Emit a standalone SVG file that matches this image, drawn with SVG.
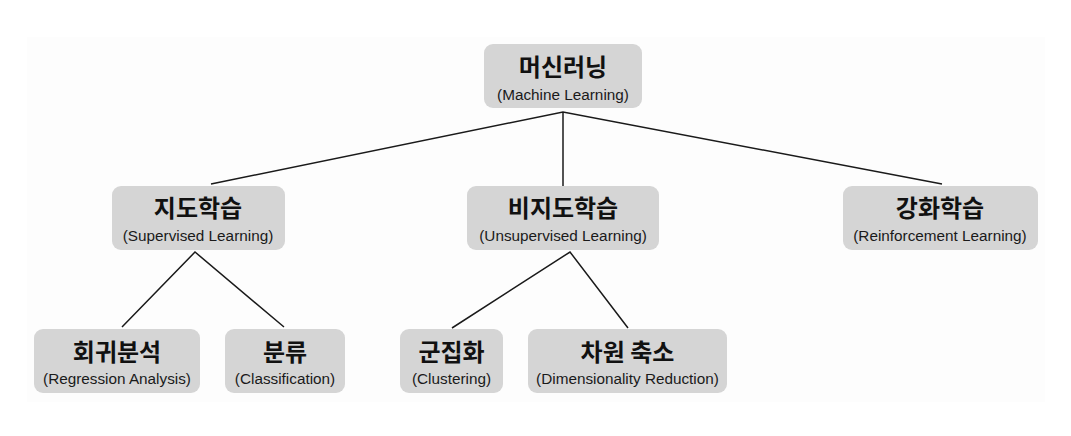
<svg xmlns="http://www.w3.org/2000/svg" width="1071" height="436" viewBox="0 0 1071 436">
  <style>
    .box { fill: #d5d5d5; }
    .ko { font-family: "Noto Sans CJK KR", "Liberation Sans", sans-serif; font-weight: 700; font-size: 24px; fill: #111; text-anchor: middle; }
    .en { font-family: "Liberation Sans", "Noto Sans CJK KR", sans-serif; font-size: 15.3px; fill: #1a1a1a; text-anchor: middle; }
    .edge { stroke: #1a1a1a; stroke-width: 1.5; fill: none; stroke-linejoin: miter; }
  </style>
  <rect x="0" y="0" width="1071" height="436" fill="#ffffff"/>
  <rect x="27" y="37" width="1018" height="365" fill="#fdfdfd"/>
  <g id="connectors">
    <polyline class="edge" points="211,184 563,112 942,184"/>
    <line class="edge" x1="563" y1="112" x2="563" y2="186"/>
    <polyline class="edge" points="122,327 195,252 284,327"/>
    <polyline class="edge" points="452,328 570,252 628,328"/>
  </g>
  <g id="node-ml">
    <rect class="box" x="484" y="44" width="158" height="64" rx="9"/>
    <text class="ko" x="563" y="76">머신러닝</text>
    <text class="en" x="563" y="100">(Machine Learning)</text>
  </g>
  <g id="node-supervised">
    <rect class="box" x="112" y="186" width="173" height="64" rx="9"/>
    <text class="ko" x="198" y="217">지도학습</text>
    <text class="en" x="198" y="241">(Supervised Learning)</text>
  </g>
  <g id="node-unsupervised">
    <rect class="box" x="467" y="186" width="192" height="64" rx="9"/>
    <text class="ko" x="563" y="217">비지도학습</text>
    <text class="en" x="563" y="241">(Unsupervised Learning)</text>
  </g>
  <g id="node-reinforcement">
    <rect class="box" x="843" y="186" width="195" height="64" rx="9"/>
    <text class="ko" x="940" y="217">강화학습</text>
    <text class="en" x="940" y="241">(Reinforcement Learning)</text>
  </g>
  <g id="node-regression">
    <rect class="box" x="34" y="329" width="166" height="64" rx="9"/>
    <text class="ko" x="117" y="361">회귀분석</text>
    <text class="en" x="117" y="384">(Regression Analysis)</text>
  </g>
  <g id="node-classification">
    <rect class="box" x="225" y="329" width="120" height="64" rx="9"/>
    <text class="ko" x="285" y="361">분류</text>
    <text class="en" x="285" y="384">(Classification)</text>
  </g>
  <g id="node-clustering">
    <rect class="box" x="400" y="329" width="103" height="64" rx="9"/>
    <text class="ko" x="451.5" y="361">군집화</text>
    <text class="en" x="451.5" y="384">(Clustering)</text>
  </g>
  <g id="node-dimred">
    <rect class="box" x="528" y="329" width="199" height="64" rx="9"/>
    <text class="ko" x="627.5" y="361">차원 축소</text>
    <text class="en" x="627.5" y="384">(Dimensionality Reduction)</text>
  </g>
</svg>
